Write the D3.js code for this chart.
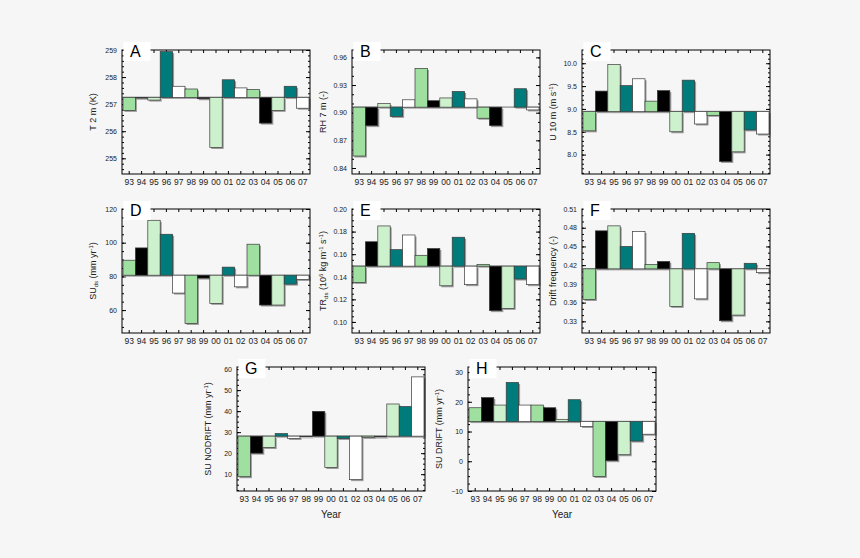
<!DOCTYPE html>
<html>
<head>
<meta charset="utf-8">
<script src="https://cdn.jsdelivr.net/npm/d3@7"></script>
<style>
  body { margin: 0; background: #f6f6f6; }
  text { font-family: "Liberation Sans", Arial, sans-serif; }
</style>
</head>
<body>
<div id="chart"></div>
<script>
// values
const years = ["93","94","95","96","97","98","99","00","01","02","03","04","05","06","07"];
const t2m = [256.77, 257.22, 257.15, 258.94, 257.66, 257.56, 257.2, 255.4, 257.9, 257.6, 257.54, 256.3, 256.77, 257.66, 256.85];
const rh7m = [0.853, 0.886, 0.910, 0.896, 0.914, 0.948, 0.913, 0.916, 0.923, 0.915, 0.894, 0.886, 0.906, 0.926, 0.903];
const u10m = [8.52, 9.39, 9.97, 9.51, 9.66, 9.17, 9.40, 8.50, 9.63, 8.67, 8.86, 7.85, 8.06, 8.54, 8.45];
const suDs = [89.6, 96.9, 113.3, 105.0, 70.1, 52.1, 79.0, 64.0, 85.5, 73.8, 99.1, 63.0, 63.0, 75.4, 78.2];
const trDs = [0.135, 0.171, 0.185, 0.164, 0.177, 0.159, 0.165, 0.132, 0.175, 0.133, 0.151, 0.110, 0.112, 0.138, 0.133];
const driftFreq = [0.365, 0.475, 0.483, 0.450, 0.474, 0.421, 0.426, 0.354, 0.471, 0.366, 0.424, 0.331, 0.340, 0.423, 0.408];
const suNoDrift = [8.8, 20.0, 22.7, 29.3, 27.0, 27.8, 39.9, 13.2, 27.0, 7.4, 27.5, 27.7, 43.4, 42.2, 56.3];
const suDrift = [18.0, 21.4, 18.9, 26.5, 18.9, 18.9, 18.0, 14.1, 20.7, 11.7, -5.1, 0.2, 2.2, 6.8, 9.1];
// mean of each series (the bars start from here)
const baselines = [257.25, 0.906, 8.94, 80.7, 0.1494, 0.4141, 28.1, 13.35];

const yearColors = ["#9fdf9f", "#000000", "#cdf0cd", "#007b7b", "#ffffff"];

const W = 860, H = 558;
const pw = 188, ph = 124;

const svg = d3.select("#chart").append("svg")
    .attr("width", W)
    .attr("height", H);

svg.append("rect").attr("width", W).attr("height", H).attr("fill", "#f6f6f6");

const panels = [
  {key: "A", x: 122, y: 50, values: t2m, domain: [254.42, 259.0], ticks: [255, 256, 257, 258, 259], minor: 0.2, fmt: d3.format("d"),
   label: [["T 2 m (K)"]]},
  {key: "B", x: 352, y: 50, values: rh7m, domain: [0.8335, 0.968], ticks: [0.84, 0.87, 0.90, 0.93, 0.96], minor: 0.01, fmt: d3.format(".2f"),
   label: [["RH 7 m (-)"]]},
  {key: "C", x: 582, y: 50, values: u10m, domain: [7.575, 10.29], ticks: [8.0, 8.5, 9.0, 9.5, 10.0], minor: 0.1, fmt: d3.format(".1f"),
   label: [["U 10 m (m s"], ["-1", "sup"], [")"]]},
  {key: "D", x: 122, y: 209, values: suDs, domain: [46.4, 120], ticks: [60, 80, 100, 120], minor: 5, fmt: d3.format("d"),
   label: [["SU"], ["ds", "sub"], [" (mm yr"], ["-1", "sup"], [")"]]},
  {key: "E", x: 352, y: 209, values: trDs, domain: [0.0902, 0.20], ticks: [0.10, 0.12, 0.14, 0.16, 0.18, 0.20], minor: 0.005, fmt: d3.format(".2f"),
   label: [["TR"], ["ds", "sub"], [" (10"], ["6", "sup"], [" kg m"], ["-1", "sup"], [" s"], ["-1", "sup"], [")"]]},
  {key: "F", x: 582, y: 209, values: driftFreq, domain: [0.3113, 0.51], ticks: [0.33, 0.36, 0.39, 0.42, 0.45, 0.48, 0.51], minor: 0.01, fmt: d3.format(".2f"),
   label: [["Drift frequency (-)"]]},
  {key: "G", x: 237, y: 367, values: suNoDrift, domain: [2, 61], ticks: [10, 20, 30, 40, 50, 60], minor: 2.5, fmt: d3.format("d"),
   label: [["SU NODRIFT (mm yr"], ["-1", "sup"], [")"]], year: true},
  {key: "H", x: 468, y: 367, values: suDrift, domain: [-10, 31.7], ticks: [-10, 0, 10, 20, 30], minor: 2.5, fmt: d3.format("d"),
   label: [["SU DRIFT (mm yr"], ["-1", "sup"], [")"]], year: true}
];

panels.forEach((p, pi) => {
  const g = svg.append("g").attr("transform", `translate(${p.x},${p.y})`);

  const x = d3.scaleBand().domain(years).range([1, pw - 1]).padding(0);
  const y = d3.scaleLinear().domain(p.domain).range([ph, 0]);
  const base = baselines[pi];

  // minor ticks
  const minors = [];
  for (let v = Math.ceil(p.domain[0] / p.minor) * p.minor; v <= p.domain[1] + 1e-9; v += p.minor) minors.push(+v.toFixed(4));

  g.append("g").call(d3.axisLeft(y).tickValues(minors).tickSize(-2).tickFormat(""))
    .call(a => a.select(".domain").remove());
  g.append("g").attr("transform", `translate(${pw},0)`)
    .call(d3.axisRight(y).tickValues(minors).tickSize(-2).tickFormat(""))
    .call(a => a.select(".domain").remove());

  // major ticks
  g.append("g")
    .call(d3.axisLeft(y).tickValues(p.ticks).tickSize(-4).tickPadding(5).tickFormat(p.fmt))
    .call(a => a.select(".domain").remove())
    .call(a => a.selectAll("text").attr("font-size", 7).attr("fill", "#222")
      .attr("font-family", "'Liberation Sans', Arial, sans-serif"));
  g.append("g").attr("transform", `translate(${pw},0)`)
    .call(d3.axisRight(y).tickValues(p.ticks).tickSize(-4).tickFormat(""))
    .call(a => a.select(".domain").remove());

  // year axis
  g.append("g").attr("transform", `translate(0,${ph})`)
    .call(d3.axisBottom(x).tickSize(-3).tickPadding(5))
    .call(a => a.select(".domain").remove())
    .call(a => a.selectAll("text").attr("font-size", 8.5).attr("fill", "#222")
      .attr("font-family", "'Liberation Sans', Arial, sans-serif"));
  g.append("g")
    .call(d3.axisTop(x).tickSize(-3).tickFormat(""))
    .call(a => a.select(".domain").remove());

  // mean line
  g.append("line")
    .attr("x1", 0).attr("x2", pw)
    .attr("y1", y(base)).attr("y2", y(base))
    .attr("stroke", "#a8a8a8")
    .attr("stroke-width", 1.6);

  // bars with a grey shadow
  const bars = g.selectAll(".bar")
    .data(p.values)
    .enter()
    .append("g");

  bars.append("rect")
    .attr("x", (d, i) => x(years[i]) + 1.5)
    .attr("y", d => Math.min(y(d), y(base)) + 1.5)
    .attr("width", x.bandwidth())
    .attr("height", d => Math.abs(y(d) - y(base)))
    .attr("fill", "#9a9a9a");

  bars.append("rect")
    .attr("x", (d, i) => x(years[i]))
    .attr("y", d => Math.min(y(d), y(base)))
    .attr("width", x.bandwidth())
    .attr("height", d => Math.abs(y(d) - y(base)))
    .attr("fill", (d, i) => yearColors[i % 5])
    .attr("stroke", "#3a3a3a")
    .attr("stroke-width", 0.7);

  // frame
  g.append("rect")
    .attr("width", pw).attr("height", ph)
    .attr("fill", "none")
    .attr("stroke", "#000")
    .attr("stroke-width", 1);

  // panel letter
  g.append("rect")
    .attr("x", 1.5).attr("y", -8)
    .attr("width", 27).attr("height", 19)
    .attr("fill", "#fff");
  g.append("text")
    .attr("x", 8).attr("y", 7)
    .attr("font-size", 16)
    .attr("fill", "#000")
    .text(p.key);

  // y label
  const lab = g.append("text")
    .attr("transform", `translate(-26,${ph / 2}) rotate(-90)`)
    .attr("text-anchor", "middle")
    .attr("font-size", 9)
    .attr("fill", "#222");
  let shift = 0;
  p.label.forEach(part => {
    const t = lab.append("tspan").text(part[0]);
    let dy = 0;
    if (part[1] === "sup") { dy = -3 - shift; shift = -3; t.attr("font-size", 6); }
    else if (part[1] === "sub") { dy = 2 - shift; shift = 2; t.attr("font-size", 6); }
    else { dy = -shift; shift = 0; }
    if (dy !== 0) t.attr("dy", dy);
  });

  if (p.year) {
    g.append("text")
      .attr("x", pw / 2).attr("y", ph + 27)
      .attr("text-anchor", "middle")
      .attr("font-size", 10)
      .attr("fill", "#222")
      .text("Year");
  }
});
</script>
</body>
</html>
